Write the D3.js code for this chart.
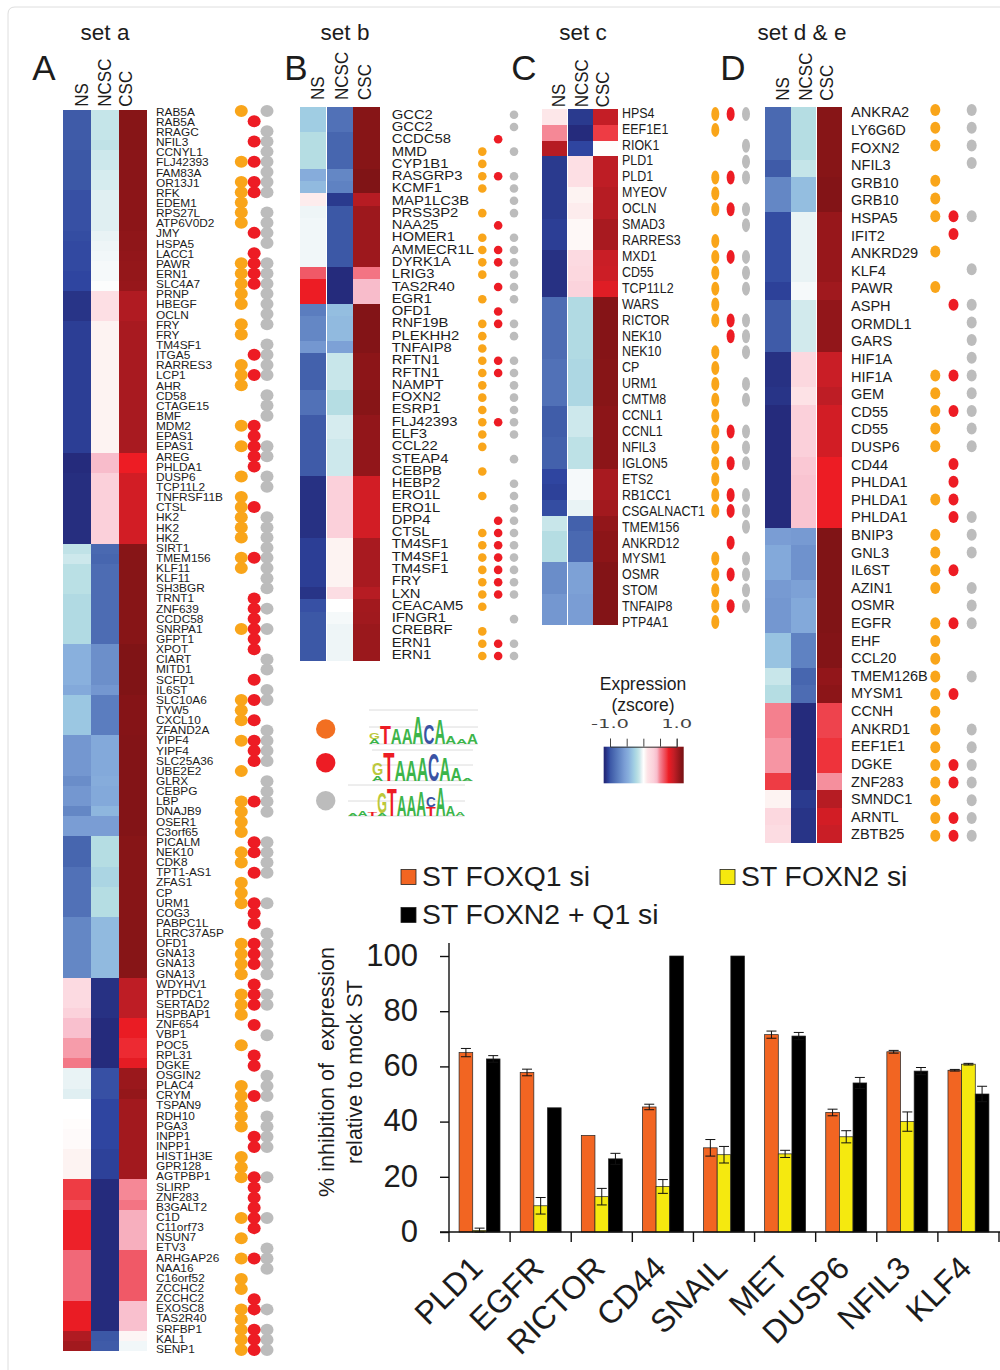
<!DOCTYPE html>
<html>
<head>
<meta charset="utf-8">
<script src="https://cdn.jsdelivr.net/npm/d3@7"></script>
<style>
body { margin: 0; background: #fff; }
text { font-family: "Liberation Sans", Arial, sans-serif; fill: #1c1c1c; }
</style>
</head>
<body>
<svg id="fig" width="1000" height="1370"></svg>
<script>
// column names of every heatmap
var conditions = ["NS", "NCSC", "CSC"];

// panel A
var genesA = ["RAB5A","RAB5A","RRAGC","NFIL3","CCNYL1","FLJ42393","FAM83A","OR13J1","RFK","EDEM1","RPS27L","ATP6V0D2","JMY","HSPA5","LACC1","PAWR","ERN1","SLC4A7","PRNP","HBEGF","OCLN","FRY","FRY","TM4SF1","ITGA5","RARRES3","LCP1","AHR","CD58","CTAGE15","BMF","MDM2","EPAS1","EPAS1","AREG","PHLDA1","DUSP6","TCP11L2","TNFRSF11B","CTSL","HK2","HK2","HK2","SIRT1","TMEM156","KLF11","KLF11","SH3BGR","TRNT1","ZNF639","CCDC58","SNRPA1","GFPT1","XPOT","CIART","MITD1","SCFD1","IL6ST","SLC10A6","TYW5","CXCL10","ZFAND2A","YIPF4","YIPF4","SLC25A36","UBE2E2","GLRX","CEBPG","LBP","DNAJB9","OSER1","C3orf65","PICALM","NEK10","CDK8","TPT1-AS1","ZFAS1","CP","URM1","COG3","PABPC1L","LRRC37A5P","OFD1","GNA13","GNA13","GNA13","WDYHV1","PTPDC1","SERTAD2","HSPBAP1","ZNF654","VBP1","POC5","RPL31","DGKE","OSGIN2","PLAC4","CRYM","TSPAN9","RDH10","PGA3","INPP1","INPP1","HIST1H3E","GPR128","AGTPBP1","SLIRP","ZNF283","B3GALT2","C1D","C11orf73","NSUN7","ETV3","ARHGAP26","NAA16","C16orf52","ZCCHC2","ZCCHC2","EXOSC8","TAS2R40","SRFBP1","KAL1","SENP1"];
var nsA = [-.98,-.98,-.98,-.98,-1,-1,-1,-1,-1.02,-1.02,-1.02,-1.02,-1.03,-1.04,-1.04,-1.04,-1.05,-1.05,
  -1.12,-1.12,-1.12,-1.08,-1.08,-1.08,-1.08,-1.08,-1.08,-1.08,-1.08,-1.08,-1.08,-1.08,-1.08,-1.08,
  -1.15,-1.15,-1.14,-1.14,-1.14,-1.14,-1.14,-1.14,-1.14,
  -.16,-.12,-.18,-.18,-.18,-.22,-.22,-.22,-.22,-.22,
  -.45,-.45,-.45,-.45,-.5,-.33,-.33,-.33,-.33,
  -.62,-.62,-.62,-.62,-.68,-.62,-.62,-.72,-.58,-.58,
  -.92,-.92,-.92,-.85,-.85,-.85,-.85,-.85,-.72,-.72,-.72,-.72,-.72,-.72,
  .2,.2,.2,.28,.38,.38,.45,.45,.52,
  -.06,-.06,-.08,0,0,.01,.02,.02,.05,.05,.05,
  .68,.68,.62,.74,.74,.74,.74,.56,.56,.56,.56,.56,.76,.76,.76,.97,1.02];
var ncscA = [-.14,-.14,-.14,-.16,-.12,-.12,-.1,-.1,-.08,-.08,-.08,-.08,-.06,-.05,-.04,-.03,-.03,-.01,
  .15,.15,.15,.05,.05,.05,.05,.05,.05,.05,.05,.05,.05,.05,.05,.05,
  .4,.4,.3,.3,.3,.3,.3,.3,.3,
  -.9,-.92,-.88,-.88,-.88,-.88,-.88,-.88,-.88,-.88,
  -.67,-.67,-.67,-.67,-.62,-.78,-.78,-.78,-.78,
  -.5,-.5,-.5,-.5,-.48,-.5,-.5,-.42,-.58,-.58,
  -.2,-.2,-.2,-.25,-.25,-.2,-.2,-.2,-.4,-.4,-.4,-.4,-.4,-.4,
  -1.13,-1.13,-1.13,-1.13,-1.15,-1.15,-1.15,-1.15,-1.15,
  -1.02,-1.02,-1.02,-1.05,-1.05,-1.05,-1.05,-1.05,-1.07,-1.07,-1.07,
  -1.15,-1.15,-1.15,-1.15,-1.15,-1.15,-1.15,-1.15,-1.15,-1.15,-1.15,-1.15,-1.15,-1.15,-1.15,-1,-.98];
var cscA = [1.12,1.12,1.12,1.12,1.11,1.11,1.11,1.11,1.1,1.1,1.1,1.1,1.09,1.09,1.08,1.07,1.07,1.06,
  .97,.97,.97,1,1,1,1,1,1,1,1,1,1,1,1,1,
  .75,.75,.85,.85,.85,.85,.85,.85,.85,
  1.12,1.12,1.12,1.12,1.12,1.12,1.12,1.12,1.12,1.12,
  1.15,1.15,1.15,1.15,1.15,1.13,1.13,1.13,1.13,
  1.14,1.14,1.14,1.14,1.14,1.14,1.14,1.14,1.14,1.14,
  1.12,1.12,1.12,1.12,1.12,1.12,1.12,1.12,1.12,1.12,1.12,1.12,1.12,1.12,
  .92,.92,.92,.92,.76,.76,.72,.72,.78,
  1.05,1.05,1.07,1.02,1.02,1.02,1.02,1.02,1.02,1.02,1.02,
  .48,.48,.53,.42,.42,.42,.42,.6,.6,.6,.6,.6,.38,.38,.38,.04,-.04];
// 1-based row numbers that carry a dot
var orangeA = [1,6,8,9,10,11,12,16,17,18,19,20,22,23,26,27,28,32,34,37,39,40,41,42,43,45,46,52,59,60,61,63,66,69,70,71,72,74,75,77,78,79,83,84,85,86,88,89,90,93,97,98,99,100,101,104,105,106,110,112,114,116,117,119,120,121,122,123];
var redA = [2,4,6,8,9,13,15,16,17,18,25,27,32,33,34,35,36,40,45,49,50,51,52,53,54,57,59,61,63,64,65,69,73,74,76,79,80,81,83,84,85,87,88,89,91,94,95,98,102,103,106,107,108,109,110,111,114,118,119,121,122,123];
var grayA = [1,3,4,5,6,7,8,9,11,12,13,14,16,17,18,19,20,21,22,24,25,26,27,29,30,31,34,35,37,38,41,42,43,44,45,46,47,48,50,52,55,56,58,59,62,63,64,65,67,68,69,70,73,74,75,76,79,82,83,84,85,86,88,89,92,96,97,98,100,101,102,103,106,110,113,114,115,119,121,122,123];

// panel B
var genesB = ["GCC2","GCC2","CCDC58","MMD","CYP1B1","RASGRP3","KCMF1","MAP1LC3B","PRSS3P2","NAA25","HOMER1","AMMECR1L","DYRK1A","LRIG3","TAS2R40","EGR1","OFD1","RNF19B","PLEKHH2","TNFAIP8","RFTN1","RFTN1","NAMPT","FOXN2","ESRP1","FLJ42393","ELF3","CCL22","STEAP4","CEBPB","HEBP2","ERO1L","ERO1L","DPP4","CTSL","TM4SF1","TM4SF1","TM4SF1","FRY","LXN","CEACAM5","IFNGR1","CREBRF","ERN1","ERN1"];
var nsB = [-.3,-.3,-.2,-.2,-.2,-.48,-.4,.08,-.05,-.04,-.04,-.04,-.04,.6,.75,.75,-.78,-.72,-.72,-.62,-.95,-.95,-.95,-.85,-.85,-.98,-.98,-.98,-.98,-.98,-1.13,-1.13,-1.13,-1.13,-1.13,-1.08,-1.08,-1.08,-1.08,-1.12,-1.02,-1,-1,-1,-1];
var ncscB = [-.85,-.85,-.92,-.92,-.92,-.72,-.75,-1.1,-1,-1,-1,-1,-1,-1.15,-1.15,-1.15,-.38,-.4,-.4,-.55,-.13,-.13,-.13,-.2,-.2,-.1,-.1,-.12,-.12,-.12,.3,.3,.3,.3,.3,.05,.05,.05,.05,.17,0,-.03,-.05,-.05,-.05];
var cscB = [1.12,1.12,1.12,1.12,1.12,1.15,1.15,.95,1.04,1.04,1.04,1.04,1.04,.53,.4,.4,1.14,1.14,1.14,1.14,1.1,1.1,1.1,1.12,1.12,1.08,1.08,1.08,1.08,1.08,.85,.85,.85,.85,.85,1,1,1,1,.95,1.02,1.03,1.05,1.05,1.05];
var orangeB = [4,5,6,7,9,11,12,13,14,16,18,19,20,21,22,23,24,25,26,27,28,30,32,35,36,37,38,39,40,41,43,44,45];
var redB = [3,6,10,12,13,15,17,18,21,22,26,34,35,36,37,38,39,40,44,45];
var grayB = [1,2,4,6,7,8,9,11,12,13,14,15,16,18,19,21,22,23,24,25,26,27,29,31,32,33,34,35,36,37,38,39,40,42,44,45];

// panel C
var genesC = ["HPS4","EEF1E1","RIOK1","PLD1","PLD1","MYEOV","OCLN","SMAD3","RARRES3","MXD1","CD55","TCP11L2","WARS","RICTOR","NEK10","NEK10","CP","URM1","CMTM8","CCNL1","CCNL1","NFIL3","IGLON5","ETS2","RB1CC1","CSGALNACT1","TMEM156","ANKRD12","MYSM1","OSMR","STOM","TNFAIP8","PTP4A1"];
var nsC = [.1,.48,.95,-1.1,-1.1,-1.1,-1.1,-1.08,-1.08,-1.13,-1.13,-1.13,-.88,-.88,-.88,-.88,-.85,-.85,-.85,-.97,-.97,-.95,-.95,-1.05,-1.07,-1.03,-.13,-.2,-.2,-.68,-.68,-.62,-.62];
var ncscC = [-1.1,-1.15,-1.05,.15,.15,.05,.08,.03,.03,.2,.22,.27,-.22,-.22,-.22,-.22,-.24,-.24,-.24,-.12,-.12,-.17,-.17,-.03,-.03,-.06,-.95,-.9,-.9,-.55,-.55,-.58,-.58];
var cscC = [.9,.68,.01,.92,.92,.95,.95,1,1,.88,.87,.8,1.13,1.13,1.13,1.13,1.12,1.12,1.12,1.1,1.1,1.1,1.1,1,1,1.02,1.08,1.1,1.1,1.14,1.14,1.14,1.14];
var orangeC = [1,2,5,6,7,9,10,11,12,13,14,16,17,18,19,20,21,22,23,24,25,26,29,30,31,32,33];
var redC = [1,5,7,10,14,15,21,23,25,26,28,30,32];
var grayC = [1,3,4,5,7,8,10,11,12,14,15,16,18,19,21,22,23,25,26,27,29,30,31,32];

// panel D
var genesD = ["ANKRA2","LY6G6D","FOXN2","NFIL3","GRB10","GRB10","HSPA5","IFIT2","ANKRD29","KLF4","PAWR","ASPH","ORMDL1","GARS","HIF1A","HIF1A","GEM","CD55","CD55","DUSP6","CD44","PHLDA1","PHLDA1","PHLDA1","BNIP3","GNL3","IL6ST","AZIN1","OSMR","EGFR","EHF","CCL20","TMEM126B","MYSM1","CCNH","ANKRD1","EEF1E1","DGKE","ZNF283","SMNDC1","ARNTL","ZBTB25"];
var nsD = [-.9,-.9,-.9,-.98,-.72,-.72,-1.03,-1.03,-1.03,-1.03,-1.07,-.98,-.98,-.98,-1.13,-1.13,-1.12,-1.15,-1.15,-1.15,-1.15,-1.15,-1.15,-1.15,-.58,-.5,-.5,-.6,-.62,-.62,-.35,-.35,-.13,-.2,.5,.5,.46,.46,.68,.05,.22,.18];
var ncscD = [-.2,-.2,-.2,-.14,-.38,-.38,-.06,-.06,-.06,-.06,-.03,-.11,-.11,-.11,.22,.22,.12,.3,.3,.3,.34,.36,.36,.36,-.6,-.65,-.65,-.55,-.5,-.5,-.75,-.75,-.92,-.88,-1.15,-1.15,-1.15,-1.15,-1.15,-1.1,-1.12,-1.12];
var cscD = [1.12,1.12,1.12,1.12,1.14,1.14,1.06,1.06,1.06,1.06,1.03,1.08,1.08,1.08,.88,.88,.92,.85,.85,.85,.75,.75,.75,.75,1.15,1.15,1.15,1.15,1.15,1.15,1.14,1.14,1.08,1.1,.66,.66,.7,.7,.47,.95,.85,.88];
var orangeD = [1,2,3,5,6,7,9,11,16,17,18,19,20,23,25,26,27,28,30,31,32,33,34,35,36,37,38,39,40,41,42];
var redD = [7,8,12,16,18,21,22,23,24,27,30,34,38,39,41,42];
var grayD = [1,2,3,4,7,10,12,13,14,15,16,17,18,19,20,24,25,26,28,29,30,33,36,37,38,39,40,41,42];

// bar chart
var barGenes = ["PLD1","EGFR","RICTOR","CD44","SNAIL","MET","DUSP6","NFIL3","KLF4"];
var barSeries = ["ST FOXQ1 si","ST FOXN2 si","ST FOXN2 + Q1 si"];
var foxq1 = [65,57.8,35,45.3,30.5,71.5,43.3,65.3,58.6];
var foxq1Err = [1.5,1.2,0,1,3,1.3,1.2,.5,.3];
var foxn2 = [.6,9.5,12.8,16.5,28,28.3,34.5,40,60.8];
var foxn2Err = [.8,3,3,2.5,3,1.3,2.2,3.5,.3];
var foxBoth = [62.7,45,26.5,100,100,71,54,58.3,50];
var foxBothErr = [1.2,0,2,0,0,1.3,2,1.3,2.8];
var yTicks = [0,20,40,60,80,100];

// motif logos, each position is a stack of [letter, height] from the bottom up
var logoOrange = [[["A",.18],["G",.22]],[["T",.65]],[["A",.55]],[["A",.55]],[["A",1]],[["C",.72]],[["A",.9]],[["A",.28]],[["A",.2]],[["A",.38]]];
var logoRed = [[["A",.2],["G",.42]],[["T",1]],[["A",.72]],[["A",.72]],[["A",.82]],[["C",.95]],[["A",.82]],[["A",.45]],[["A",.08]]];
var logoGray = [[["A",.1]],[["A",.2]],[["T",.15]],[["A",.1],["G",.72]],[["T",.95]],[["A",.72]],[["A",.72]],[["A",.88]],[["T",.32],["C",.35]],[["A",1]],[["A",.35]],[["A",.12]]];

// colour ramp of the z-score
var zStops = [-1.2,-1.155,-1.1,-1.05,-1,-.9,-.75,-.58,-.45,-.3,-.2,-.13,-.05,0,.05,.12,.3,.4,.48,.58,.68,.75,.9,1,1.1,1.155,1.2];
var zColors = ["#1f2878","#25297a","#2a3a8e","#2f45a0","#3c58a6","#4a69b1","#5f82c2","#7a9dd4","#89b0dd","#a0cde3","#b5dde3","#c8e6ea","#eef5f7","#ffffff","#fdf3f2","#fde2e6","#fbd0da","#f8bccb","#f58896","#f06070","#ee3c44","#ed1c24","#c41e26","#a81a20","#8c1518","#7f1416","#7a1214"];
var zColor = d3.scaleLinear().domain(zStops).range(zColors);

var dotColors = { orange: "#f9a51a", red: "#ed1c24", gray: "#bcbcbc" };
var logoColors = { A: "#3cb54a", T: "#ed1c24", C: "#3a53a4", G: "#bcc83a" };

var svg = d3.select("#fig");

// faint frame of the figure
svg.append("path").attr("d", "M8,1370V14Q8,7 15,7H1000").attr("fill", "none").attr("stroke", "#dedede");

// builds the panel rows out of the arrays above
function rowsOf(genes, ns, ncsc, csc) {
  return genes.map(function(g, i) { return { gene: g, i: i, vals: [ns[i], ncsc[i], csc[i]] }; });
}

var panels = [
  { title: "set a", titleX: 105, letter: "A", letterX: 44, rows: rowsOf(genesA, nsA, ncscA, cscA),
    x0: 63.3, x1: 147.3, top: 109.5, bottom: 1351, labelX: 156, labelY: [112, 1349], dotY: [111, 1350], dotX: [241.3, 267], rx: 6.5, ry: 6,
    font: 10.5, stretch: 1.13, orange: orangeA, red: redA, gray: grayA,
    headX: [88.3, 111, 131.7], headY: 106.7, headScale: .92 },
  { title: "set b", titleX: 345, letter: "B", letterX: 296, rows: rowsOf(genesB, nsB, ncscB, cscB),
    x0: 300, x1: 380, top: 107.3, bottom: 660.7, labelX: 391.7, labelY: [114, 654.3], dotY: [114.7, 656], dotX: [482.3, 514], rx: 4.3, ry: 4.3,
    font: 13, stretch: 1.14, orange: orangeB, red: redB, gray: grayB,
    headX: [324, 348, 370.7], headY: 100, headScale: .92 },
  { title: "set c", titleX: 583, letter: "C", letterX: 524, rows: rowsOf(genesC, nsC, ncscC, cscC),
    x0: 542.3, x1: 618.3, top: 109.3, bottom: 625, labelX: 622, labelY: [112.3, 621.7], dotY: [114, 622], dotX: [715.3, 746], rx: 4, ry: 7,
    font: 15, stretch: .83, orange: orangeC, red: redC, gray: grayC,
    headX: [565, 588.3, 609.3], headY: 107.3, headScale: .92 },
  { title: "set d & e", titleX: 802, letter: "D", letterX: 733, rows: rowsOf(genesD, nsD, ncscD, cscD),
    x0: 765, x1: 842.7, top: 107.3, bottom: 842.7, labelX: 851, labelY: [112.3, 834.3], dotY: [110, 835.7], dotX: [935.3, 971.7], rx: 5, ry: 6,
    font: 14, stretch: 1.04, orange: orangeD, red: redD, gray: grayD,
    headX: [789.3, 811.7, 833.3], headY: 100.7, headScale: .92 }
];

panels.forEach(function(p) {
  var g = svg.append("g");
  var idx = d3.range(p.rows.length);
  var x = d3.scaleBand().domain(conditions).range([p.x0, p.x1]);
  var y = d3.scaleBand().domain(idx).range([p.top, p.bottom]);
  var labelY = d3.scalePoint().domain(idx).range(p.labelY);
  var dotY = d3.scalePoint().domain(idx).range(p.dotY);
  var dotX = d3.scalePoint().domain(["orange", "red", "gray"]).range(p.dotX);

  g.append("text").attr("x", p.titleX).attr("y", 40).attr("text-anchor", "middle")
    .style("font-size", "22.5px").text(p.title);
  g.append("text").attr("x", p.letterX).attr("y", 80).attr("text-anchor", "middle")
    .style("font-size", "35px").text(p.letter);

  conditions.forEach(function(c, ci) {
    g.append("text")
      .attr("transform", "translate(" + p.headX[ci] + "," + p.headY + ") rotate(-90) scale(" + p.headScale + ",1)")
      .style("font-size", "18.5px").text(c);

    g.selectAll(".c" + ci).data(p.rows).enter().append("rect")
      .attr("x", x(c)).attr("width", x.bandwidth() - .4)
      .attr("y", function(d) { return y(d.i); })
      .attr("height", y.bandwidth())
      .attr("shape-rendering", "crispEdges")
      .attr("fill", function(d) { return zColor(d.vals[ci]); });
  });

  g.selectAll(".gene").data(p.rows).enter().append("text")
    .attr("transform", function(d) { return "translate(" + p.labelX + "," + labelY(d.i) + ") scale(" + p.stretch + ",1)"; })
    .attr("dy", ".36em")
    .style("font-size", p.font + "px")
    .text(function(d) { return d.gene; });

  ["gray", "red", "orange"].forEach(function(k) {
    g.selectAll(".dot-" + k).data(p[k]).enter().append("ellipse")
      .attr("cx", dotX(k))
      .attr("cy", function(d) { return dotY(d - 1); })
      .attr("rx", p.rx).attr("ry", p.ry)
      .attr("fill", dotColors[k]);
  });
});

// motif key
var motifs = [
  { dot: "#f26f21", cy: 729, logo: logoOrange, x: [369, 478], base: 744, h: 28, lines: [710, 727, 744] },
  { dot: "#ed1c24", cy: 762.7, logo: logoRed, x: [372, 473], base: 780.7, h: 29, lines: [750, 765, 780.7] },
  { dot: "#bcbcbc", cy: 800.7, logo: logoGray, x: [348, 465], base: 816, h: 29, lines: [785, 801, 816] }
];
var capWidth = { A: .722, T: .611, C: .722, G: .778 };
motifs.forEach(function(m) {
  var g = svg.append("g");
  g.append("circle").attr("cx", 325.7).attr("cy", m.cy).attr("r", 9.7).attr("fill", m.dot);
  g.selectAll("line").data(m.lines).enter().append("line")
    .attr("x1", m.x[0]).attr("x2", m.x[1])
    .attr("y1", function(d) { return d; }).attr("y2", function(d) { return d; })
    .attr("stroke", "#dcdcdc");
  var lx = d3.scaleBand().domain(d3.range(m.logo.length)).range(m.x);
  var ly = d3.scaleLinear().domain([0, 1]).range([0, m.h]);
  m.logo.forEach(function(stack, i) {
    var used = 0;
    stack.forEach(function(s) {
      var sx = lx.bandwidth() / (capWidth[s[0]] * 10);
      var sy = ly(s[1]) / 7.16;
      g.append("text")
        .attr("transform", "translate(" + lx(i) + "," + (m.base - used) + ") scale(" + sx + "," + sy + ")")
        .style("font-size", "10px").style("font-weight", "bold")
        .style("fill", logoColors[s[0]])
        .text(s[0]);
      used += ly(s[1]);
    });
  });
});

// expression colour key
var keyX = d3.scaleLinear().domain([-1, 1]).range([610, 676.7]);
var grad = svg.append("defs").append("linearGradient").attr("id", "zgrad");
zStops.forEach(function(z, i) {
  grad.append("stop").attr("offset", (z - zStops[0]) / (zStops[zStops.length - 1] - zStops[0]))
    .attr("stop-color", zColors[i]);
});
svg.append("text").attr("x", 643).attr("y", 690).attr("text-anchor", "middle").style("font-size", "17.5px").text("Expression");
svg.append("text").attr("x", 643).attr("y", 711).attr("text-anchor", "middle").style("font-size", "17.5px").text("(zscore)");
[-1, 1].forEach(function(v) {
  svg.append("text")
    .attr("transform", "translate(" + keyX(v) + ",727.7) scale(1.7,1)")
    .attr("text-anchor", "middle")
    .style("font-family", "DejaVu Sans").style("font-size", "11.5px").style("fill", "#444")
    .text(d3.format(".1f")(v).replace("\u2212", "-"));
});
svg.append("rect").attr("x", keyX(-1.19)).attr("y", 746.7).attr("width", keyX(1.21) - keyX(-1.19)).attr("height", 36.6).attr("fill", "url(#zgrad)");
var keyAxis = d3.axisTop(keyX).tickValues([-1, -.5, 0, .5, 1]).tickSize(8).tickFormat("");
var keyG = svg.append("g").attr("transform", "translate(0,746.7)").call(keyAxis);
keyG.selectAll("line").attr("stroke", "#444");
keyG.select(".domain").attr("stroke", "#333");

// bar chart
var barColors = ["#f26522", "#f5e90f", "#000000"];
var bx = d3.scaleBand().domain(barGenes).range([449, 999]).paddingInner(.33).paddingOuter(.165);
var bs = d3.scaleBand().domain(barSeries).range([0, bx.bandwidth()]);
var by = d3.scaleLinear().domain([0, 100]).range([1232, 956]);

var legendPos = [[401, 877], [720, 877], [401, 915]];
barSeries.forEach(function(s, i) {
  svg.append("rect").attr("x", legendPos[i][0]).attr("y", legendPos[i][1] - 7.5).attr("width", 15).attr("height", 15)
    .attr("fill", barColors[i]).attr("stroke", "#222").attr("stroke-width", .8);
  svg.append("text")
    .attr("transform", "translate(" + (legendPos[i][0] + 21) + "," + (legendPos[i][1] + 9) + ") scale(1.05,1)")
    .style("font-size", "27px").text(s);
});

var series = [
  { name: barSeries[0], vals: foxq1, errs: foxq1Err, color: barColors[0] },
  { name: barSeries[1], vals: foxn2, errs: foxn2Err, color: barColors[1] },
  { name: barSeries[2], vals: foxBoth, errs: foxBothErr, color: barColors[2] }
];
series.forEach(function(s) {
  var g = svg.append("g");
  var data = barGenes.map(function(name, i) { return { name: name, v: s.vals[i], e: s.errs[i] }; });
  g.selectAll("rect").data(data).enter().append("rect")
    .attr("x", function(d) { return bx(d.name) + bs(s.name); })
    .attr("width", bs.bandwidth())
    .attr("y", function(d) { return by(d.v); })
    .attr("height", function(d) { return by(0) - by(d.v); })
    .attr("fill", s.color)
    .attr("stroke", "#222").attr("stroke-width", .7);
  var cx = function(d) { return bx(d.name) + bs(s.name) + bs.bandwidth() / 2; };
  var withErr = data.filter(function(d) { return d.e > 0; });
  g.selectAll(".stem").data(withErr).enter().append("line")
    .attr("x1", cx).attr("x2", cx)
    .attr("y1", function(d) { return by(d.v + d.e); })
    .attr("y2", function(d) { return by(Math.max(0, d.v - d.e)); })
    .attr("stroke", "#111");
  [1, -1].forEach(function(sign) {
    g.selectAll(".cap" + sign).data(withErr).enter().append("line")
      .attr("x1", function(d) { return cx(d) - 5; }).attr("x2", function(d) { return cx(d) + 5; })
      .attr("y1", function(d) { return by(Math.max(0, d.v + sign * d.e)); })
      .attr("y2", function(d) { return by(Math.max(0, d.v + sign * d.e)); })
      .attr("stroke", "#111");
  });
});

// y axis, the domain line runs a bit past both ends
var yAxis = d3.axisLeft(by).tickValues(yTicks).tickSize(9).tickPadding(22).tickSizeOuter(0);
var yG = svg.append("g").attr("transform", "translate(449,0)").call(yAxis);
yG.select(".domain").remove();
yG.selectAll("line").attr("stroke", "#111").attr("stroke-width", 1.4);
yG.selectAll("text").style("font-size", "31px").style("font-family", "Liberation Sans").attr("dy", ".3em");
svg.append("line").attr("x1", 449).attr("x2", 449).attr("y1", 943).attr("y2", 1242).attr("stroke", "#111").attr("stroke-width", 1.4);

// x axis with ticks between the groups
svg.append("line").attr("x1", 440).attr("x2", 1000).attr("y1", by(0)).attr("y2", by(0)).attr("stroke", "#111").attr("stroke-width", 1.4);
svg.selectAll(".xtick").data(barGenes.slice(1)).enter().append("line")
  .attr("x1", function(d) { return bx(d) - bx.step() * .165; })
  .attr("x2", function(d) { return bx(d) - bx.step() * .165; })
  .attr("y1", by(0)).attr("y2", by(0) + 10).attr("stroke", "#111").attr("stroke-width", 1.4);
svg.append("line").attr("x1", 999).attr("x2", 999).attr("y1", by(0)).attr("y2", by(0) + 10).attr("stroke", "#111").attr("stroke-width", 1.4);

svg.selectAll(".xlab").data(barGenes).enter().append("text")
  .attr("transform", function(d) { return "translate(" + (bx(d) + bx.bandwidth() / 2 + 5) + ",1270) rotate(-45)"; })
  .attr("text-anchor", "end")
  .style("font-size", "32px")
  .text(function(d) { return d; });

svg.append("text").attr("transform", "translate(334,1072) rotate(-90)").attr("text-anchor", "middle")
  .style("font-size", "21.5px").attr("xml:space", "preserve").text("% inhibition of  expression");
svg.append("text").attr("transform", "translate(362,1072) rotate(-90)").attr("text-anchor", "middle")
  .style("font-size", "21.5px").text("relative to mock ST");
</script>
</body>
</html>
